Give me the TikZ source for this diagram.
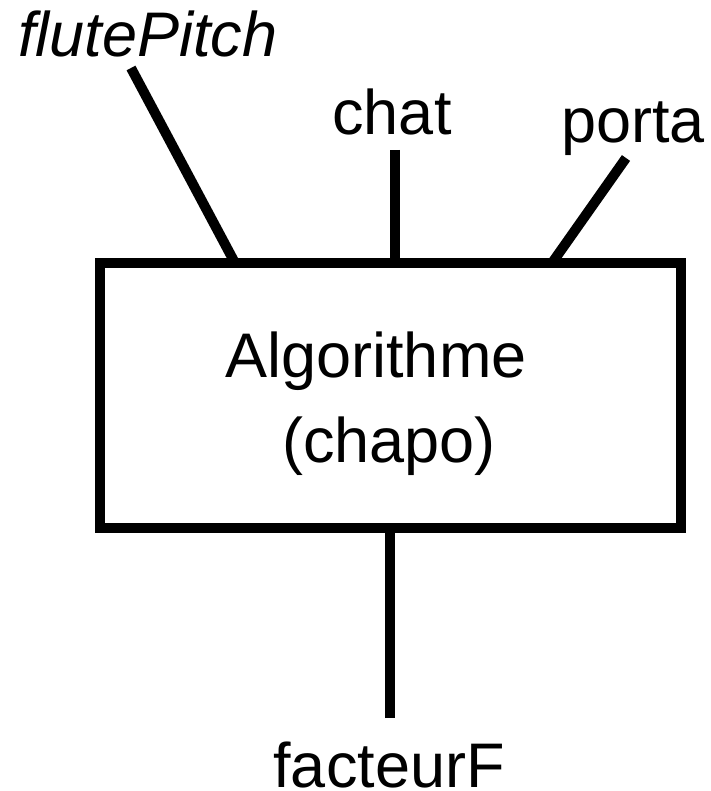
\documentclass[tikz,border=0pt]{standalone}
\usepackage{fontspec}
\setmainfont{Liberation Sans}
\begin{document}
\begin{tikzpicture}[x=1pt,y=-1pt,
  lbl/.style={inner sep=0pt,font=\fontsize{63}{75}\selectfont},
  wire/.style={line width=10pt},
  blockbox/.style={draw,line width=10pt,minimum width=581pt,minimum height=265pt,inner sep=0pt}]
\useasboundingbox (0,0) rectangle (710,791);
\node[blockbox] (box) at (390.5,395.5) {};
\node[lbl,anchor=base west] (fp) at (18,57) {\itshape flutePitch};
\node[lbl,anchor=base] (chat) at (392,135) {chat};
\node[lbl,anchor=base west] (porta) at (561,143) {porta};
\node[lbl,anchor=base] (alg) at (376,377) {Algorithme};
\node[lbl,anchor=base] (chapo) at (389,462) {(chapo)};
\node[lbl,anchor=base,text depth=0pt] (ff) at (389,787) {facteurF};
\coordinate (fpE) at (131,68);
\coordinate (chatE) at (395,150);
\coordinate (portaE) at (626,158);
\coordinate (ffE) at (390,718);
\draw[wire] (fpE) -- (235,263);
\draw[wire] (chatE) -- (chatE |- box.north);
\draw[wire] (portaE) -- (552,263);
\draw[wire] (ffE) -- (ffE |- box.south);
\end{tikzpicture}
\end{document}
